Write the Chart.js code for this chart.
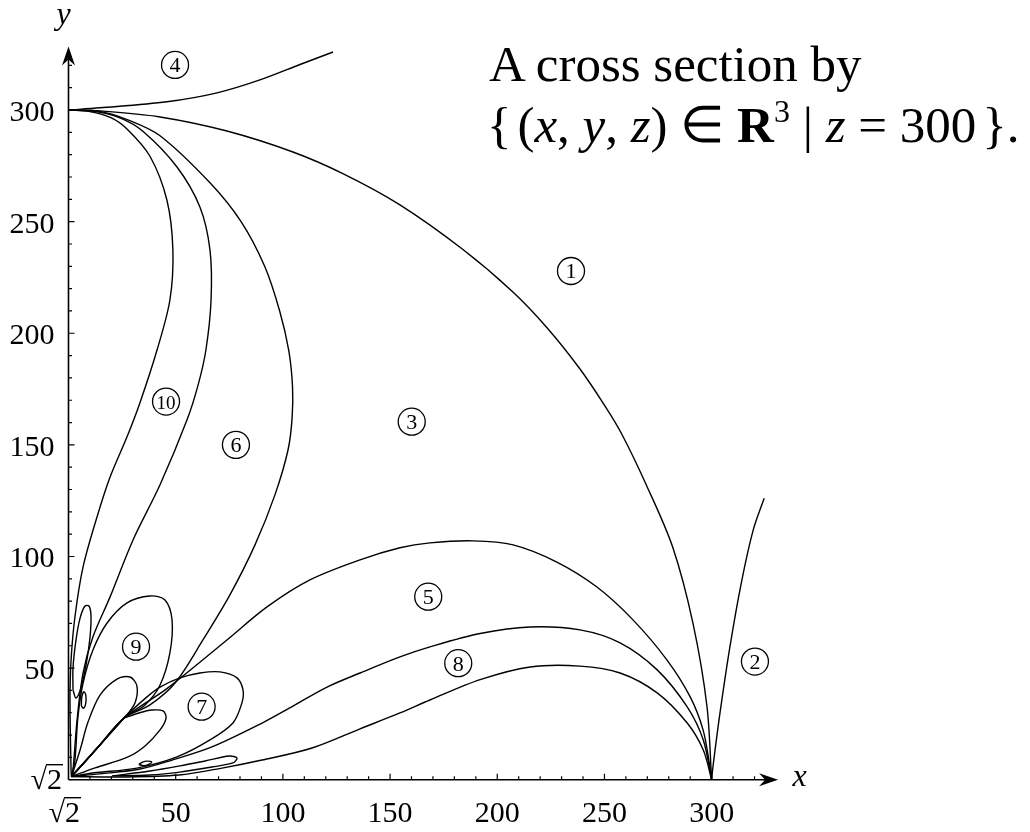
<!DOCTYPE html>
<html>
<head>
<meta charset="utf-8">
<script src="https://cdn.jsdelivr.net/npm/chart.js@4"></script>
<style>
  body { margin: 0; background: #fff; }
  #wrap { position: relative; width: 1030px; height: 832px; }
  canvas { position: absolute; left: 0; top: 0; }
  .caption {
    position: absolute;
    left: 489px;
    font-family: "Liberation Serif", serif;
    font-size: 51px;
    line-height: 50px;
    white-space: nowrap;
    color: #000;
  }
  .caption sup { font-size: 32px; line-height: 0; vertical-align: 20px; }
  .caption .gap { display: inline-block; width: 6px; }
</style>
</head>
<body>
<div id="wrap">
  <canvas id="plot" width="1030" height="832"></canvas>
  <div class="caption" style="top:39px">A cross section by</div>
  <div class="caption" style="top:100px;left:487px">{<span class="gap"></span>(<i>x</i>, <i>y</i>, <i>z</i>) ∈ <b>R</b><sup>3</sup> | <i>z</i> = 300<span class="gap"></span>}.</div>
</div>
<script>
// tick labels
const xTickValues = [50, 100, 150, 200, 250, 300];
const yTickValues = [50, 100, 150, 200, 250, 300];
const originLabel = "√2";

// region numbers and where they sit
const regionNames = ["1", "2", "3", "4", "5", "6", "7", "8", "9", "10"];
const regionX = [234.4, 320.2, 160.1, 49.7, 167.8, 78.1, 62.1, 181.8, 31.5, 45.5];
const regionY = [227.9, 52.9, 160.4, 320.2, 82.0, 150.0, 32.7, 52.2, 59.6, 169.4];

// curves as [x, y]
const curveOne = [[0,300],[14.7,299.6],[42.7,296.9],[73.9,290.6],[104.7,281.2],[128.0,271.5],[154.6,257.5],[184.0,237.5],[207.3,218.5],[223.2,202.5],[238.6,184.0],[250.2,167.5],[258.0,155.0],[269.8,131.5],[281.9,104.0],[291.3,70.0],[297.8,33.0],[300,0]];
const curveTwo = [[300,0],[300.6,5.7],[303.9,29.9],[308.5,59.4],[313.8,88.0],[319.4,111.9],[324.5,126.1]];
const curveFour = [[0,300],[14.7,301.0],[45.9,303.7],[69.3,307.7],[89.3,313.5],[108.0,320.4],[123.4,326.0]];

const arcUpper = [[1.4,1.4],[13.5,14.3],[25.9,27.6],[45.9,40.8],[73.9,62.6],[92.6,77.4],[112.6,89.5],[136.0,98.5],[154.6,103.9],[168.6,106.1],[188.7,107.0],[207.4,105.2],[227.8,97.5],[246.5,86.3],[263.3,71.6],[279.2,53.6],[290.0,37.1],[296.0,22.3],[299.2,5.7],[300,0]];
const arcMiddle = [[1.4,1.4],[14.7,2.6],[33.4,4.8],[48.3,8.8],[66.9,14.7],[90.3,25.4],[104.7,33.0],[120.6,41.5],[136.0,47.8],[154.6,55.0],[168.6,59.5],[192.0,65.5],[215.3,68.4],[238.6,67.1],[257.3,61.3],[274.6,49.2],[288.6,32.6],[296.1,17.8],[300,0]];
const arcLower = [[1.4,1.4],[24.0,1.2],[51.5,2.1],[71.6,5.2],[90.3,8.8],[113.6,14.2],[136.0,22.8],[154.6,29.9],[168.6,35.7],[192.0,44.8],[215.3,50.5],[238.6,50.9],[257.3,47.8],[274.6,38.9],[288.6,25.4],[296.1,13.3],[300,0]];

const leafOuter = [[0,300],[14.0,299.5],[28.0,295.5],[42.7,288.5],[66.0,267.4],[80.5,250.0],[91.5,230.0],[98.5,210.0],[102.8,192.0],[104.5,176.0],[104.3,162.0],[102.4,147.7],[96.3,127.6],[87.0,105.2],[75.3,82.8],[62.7,62.6],[49.7,43.3],[38.0,33.5],[25.9,27.6],[13.5,14.3],[1.4,1.4]];
const leafMiddle = [[0,300],[12.0,299.4],[24.0,296.5],[34.7,290.5],[50.6,274.5],[61.3,256.6],[66.0,237.3],[66.5,214.9],[64.1,192.5],[60.5,177.0],[55.3,161.2],[42.7,132.1],[30.1,107.4],[19.4,81.9],[11.4,64.0],[6.8,47.8],[4.0,26.7],[2.1,4.3],[1.4,1.4]];
const leafInner = [[0,300],[10.0,299.3],[20.0,296.5],[27.3,291.5],[38.0,279.3],[45.9,259.7],[48.7,237.3],[47.3,214.9],[41.3,192.5],[33.3,168.8],[27.3,153.6],[19.4,135.6],[13.3,117.7],[6.8,95.3],[3.0,72.9],[1.2,53.6],[0.7,35.7],[1.2,4.3],[1.4,1.4]];

const loopNine = [[1.4,1.4],[3.0,8.8],[4.4,28.1],[6.8,43.3],[11.4,58.1],[18.0,70.2],[27.3,79.2],[38.0,82.3],[45.0,80.5],[48.3,71.6],[47.3,56.8],[42.7,42.4],[35.7,33.5],[25.9,27.6],[13.5,14.3],[1.4,1.4]];
const loopNineInner = [[1.4,1.4],[5.4,13.3],[9.1,25.8],[14.7,37.9],[22.6,45.1],[28.7,46.0],[31.9,42.0],[31.0,34.4],[25.9,27.6],[13.5,14.3],[1.4,1.4]];
const loopSeven = [[1.4,1.4],[13.5,14.3],[25.9,27.6],[36.6,37.1],[42.7,41.5],[52.0,45.6],[61.3,47.8],[70.7,48.3],[78.6,45.6],[81.4,40.2],[80.9,34.4],[76.7,25.4],[66.0,17.8],[50.6,10.2],[31.9,5.2],[11.4,3.0],[1.4,1.4]];
const loopSevenInner = [[25.9,27.6],[32.9,29.9],[38.9,31.2],[44.1,30.8],[45.5,27.6],[42.7,22.3],[35.7,15.1],[27.8,10.2],[12.4,5.3],[1.4,1.4]];
const loopFlat = [[20.3,1.7],[38.0,3.9],[52.0,6.2],[63.7,8.4],[75.0,10.6],[78.6,9.7],[76.7,7.5],[66.9,5.7],[52.0,3.4],[38.0,2.1],[20.3,1.7]];
const ovalBottom = [[32.8,6.8],[34.6,7.9],[36.6,8.3],[38.8,7.9],[37.2,6.8],[35.2,6.3],[32.8,6.8]];
const loopAxis = [[2.1,40.2],[2.1,50.0],[3.5,62.6],[5.4,72.4],[7.7,77.8],[9.6,77.8],[10.5,73.3],[10.0,63.5],[8.2,51.4],[5.8,41.1],[3.5,36.6],[2.1,40.2]];
const ovalAxis = [[6.0,33.0],[6.2,37.0],[7.2,39.4],[8.1,37.8],[8.0,34.0],[7.0,32.0],[6.0,33.0]];

const curves = [curveOne, curveTwo, curveFour, arcUpper, arcMiddle, arcLower,
  leafOuter, leafMiddle, leafInner, loopNine, loopNineInner, loopSeven,
  loopSevenInner, loopFlat, ovalBottom, loopAxis, ovalAxis];

const serif = '"Liberation Serif", "Times New Roman", serif';

const axesPlugin = {
  id: "mathAxes",
  afterDatasetsDraw(chart) {
    const ctx = chart.ctx;
    const xs = chart.scales.x;
    const ys = chart.scales.y;
    const X = (v) => xs.getPixelForValue(v);
    const Y = (v) => ys.getPixelForValue(v);
    const ox = X(0), oy = Y(0);

    ctx.save();
    ctx.strokeStyle = "#000";
    ctx.fillStyle = "#000";
    ctx.lineWidth = 1.6;

    // axis lines
    const xEnd = X(331), yEnd = Y(328.5);
    ctx.beginPath();
    ctx.moveTo(ox, oy);
    ctx.lineTo(xEnd - 8, oy);
    ctx.moveTo(ox, oy);
    ctx.lineTo(ox, yEnd + 8);
    ctx.stroke();

    // arrow heads
    ctx.beginPath();
    ctx.moveTo(xEnd, oy);
    ctx.lineTo(xEnd - 19, oy - 6.5);
    ctx.lineTo(xEnd - 13, oy);
    ctx.lineTo(xEnd - 19, oy + 6.5);
    ctx.closePath();
    ctx.fill();
    ctx.beginPath();
    ctx.moveTo(ox, yEnd);
    ctx.lineTo(ox - 6.5, yEnd + 19);
    ctx.lineTo(ox, yEnd + 13);
    ctx.lineTo(ox + 6.5, yEnd + 19);
    ctx.closePath();
    ctx.fill();

    // ticks
    ctx.lineWidth = 1.2;
    ctx.beginPath();
    for (let v = 10; v <= 320; v += 10) {
      const len = v % 50 === 0 ? 6 : 3.5;
      ctx.moveTo(X(v), oy);
      ctx.lineTo(X(v), oy - len);
      ctx.moveTo(ox, Y(v));
      ctx.lineTo(ox + len, Y(v));
    }
    ctx.stroke();

    // tick labels
    ctx.font = "30px " + serif;
    ctx.textAlign = "center";
    ctx.textBaseline = "alphabetic";
    xTickValues.forEach((v) => ctx.fillText(String(v), X(v), oy + 42));
    ctx.textAlign = "right";
    yTickValues.forEach((v) => ctx.fillText(String(v), ox - 14, Y(v) + 11));

    // sqrt(2) labels at the origin
    const drawRoot = (right, base) => {
      const w = ctx.measureText(originLabel).width;
      const wr = ctx.measureText("√").width;
      const left = right - w;
      ctx.textAlign = "left";
      ctx.fillText(originLabel, left, base);
      ctx.beginPath();
      ctx.lineWidth = 1.4;
      ctx.moveTo(left + wr - 1, base - 24);
      ctx.lineTo(left + w + 1, base - 24);
      ctx.stroke();
    };
    drawRoot(62, oy + 9);
    drawRoot(80, oy + 42);

    // axis names
    ctx.font = "italic 32px " + serif;
    ctx.textAlign = "center";
    ctx.fillText("x", X(341), oy + 6);
    ctx.fillText("y", ox - 5, Y(338.5));

    // circled region numbers
    ctx.lineWidth = 1.3;
    regionNames.forEach((name, i) => {
      const cx = X(regionX[i]), cy = Y(regionY[i]);
      ctx.beginPath();
      ctx.arc(cx, cy, 13.5, 0, Math.PI * 2);
      ctx.stroke();
      ctx.font = (name.length > 1 ? "19px " : "22px ") + serif;
      ctx.textAlign = "center";
      ctx.fillText(name, cx, cy + 7.5);
    });

    ctx.restore();
  }
};

new Chart(document.getElementById("plot"), {
  type: "scatter",
  data: {
    datasets: curves.map((pts) => ({
      data: pts.map((p) => ({ x: p[0], y: p[1] })),
      showLine: true,
      borderColor: "#000",
      borderWidth: 1.4,
      pointRadius: 0,
      tension: 0.32,
      fill: false
    }))
  },
  options: {
    responsive: false,
    animation: false,
    layout: { padding: 0 },
    plugins: { legend: { display: false }, tooltip: { enabled: false } },
    scales: {
      x: { type: "linear", display: false, min: -31.95, max: 448.5 },
      y: { type: "linear", display: false, min: -23.43, max: 349.3 }
    }
  },
  plugins: [axesPlugin]
});
</script>
</body>
</html>
